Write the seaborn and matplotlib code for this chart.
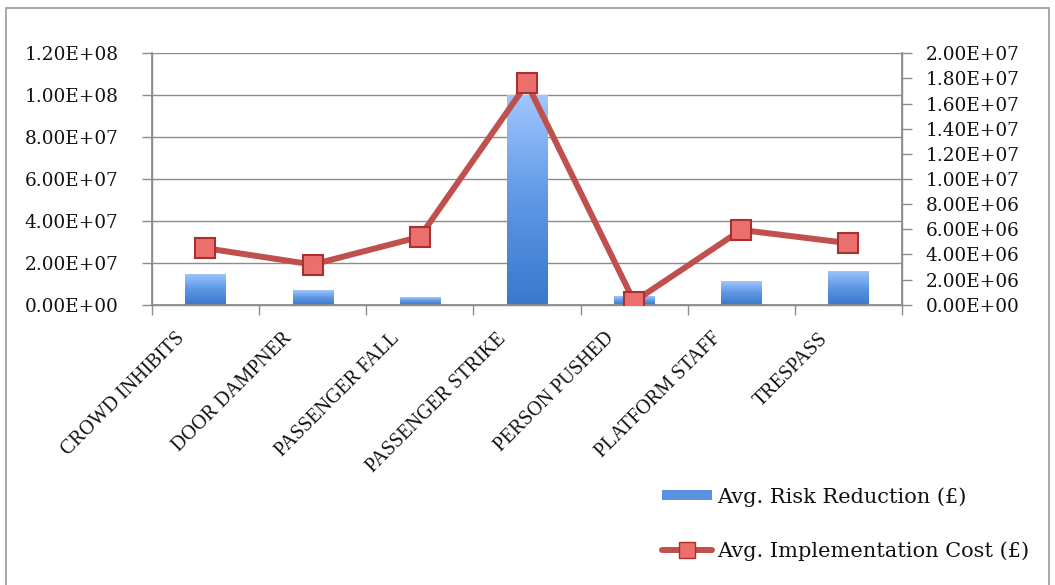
import numpy as np
import pandas as pd
import matplotlib
matplotlib.use("Agg")
import matplotlib.pyplot as plt
from matplotlib.colors import LinearSegmentedColormap
from matplotlib.patches import Rectangle, Patch
from matplotlib.lines import Line2D
from matplotlib.transforms import ScaledTranslation
import matplotlib.ticker as mticker
import seaborn as sns

categories = ["CROWD INHIBITS", "DOOR DAMPNER", "PASSENGER FALL", "PASSENGER STRIKE",
              "PERSON PUSHED", "PLATFORM STAFF", "TRESPASS"]
risk_reduction = [1.48e7, 7.1e6, 3.7e6, 1.0e8, 4.1e6, 1.14e7, 1.63e7]
implementation_cost = [4.5e6, 3.2e6, 5.4e6, 1.76e7, 2.6e5, 5.95e6, 4.9e6]
left_ticks = [0, 2e7, 4e7, 6e7, 8e7, 1e8, 1.2e8]
right_ticks = [0, 2e6, 4e6, 6e6, 8e6, 1e7, 1.2e7, 1.4e7, 1.6e7, 1.8e7, 2e7]

df = pd.DataFrame({"measure": categories, "risk": risk_reduction, "cost": implementation_cost})

sns.set_theme(style="white")
plt.rcParams["font.family"] = ["DejaVu Serif", "Liberation Serif"]

fig = plt.figure(figsize=(10.55, 5.85), dpi=100)
ax = fig.add_axes([0.144, 0.479, 0.711, 0.430])

grid_c = "#8c8c8c"
text_c = "#111111"
sci = mticker.FuncFormatter(lambda v, _: f"{v:.2E}")

sns.barplot(data=df, x="measure", y="risk", ax=ax, width=0.375, color="#4f86d8",
            saturation=1, zorder=2)

# vertical gradient fill on each bar
blue_cmap = LinearSegmentedColormap.from_list("bars", ["#3a78cc", "#5e97e4", "#a0c6ff"])
grad = np.linspace(0, 1, 256).reshape(-1, 1)
for p in list(ax.patches):
    x0, y0 = p.get_x(), p.get_y()
    w, h = p.get_width(), p.get_height()
    im = ax.imshow(grad, cmap=blue_cmap, origin="lower", aspect="auto",
                   extent=[x0, x0 + w, y0, y0 + h], zorder=2.5)
    im.set_clip_path(p)
    p.set_facecolor("none")
    p.set_edgecolor("none")

ax.set_xlim(-0.5, len(categories) - 0.5)
ax.set_ylim(0, 1.2e8)
ax.set_yticks(left_ticks)
ax.yaxis.set_major_formatter(sci)
ax.yaxis.grid(True, color=grid_c, linewidth=1.0, zorder=0)
ax.set_axisbelow(True)
ax.set_xlabel("")
ax.set_ylabel("")
ax.tick_params(axis="y", which="major", left=True, length=7, width=1, color=grid_c,
               labelsize=13.3, pad=17, labelcolor=text_c)
ax.set_xticks(range(len(categories)))
ax.set_xticklabels(categories, rotation=45, ha="right", rotation_mode="anchor",
                   fontsize=14.5, family=["Liberation Serif"], color=text_c)
ax.tick_params(axis="x", which="major", length=0, pad=14)
shift = ScaledTranslation(-30 / 100, -5 / 100, fig.dpi_scale_trans)
for lbl in ax.get_xticklabels():
    lbl.set_transform(lbl.get_transform() + shift)
ax.set_xticks(np.arange(-0.5, len(categories), 1.0), minor=True)
ax.tick_params(axis="x", which="minor", bottom=True, length=7, width=1, color=grid_c)
for s in ["left", "bottom", "right"]:
    ax.spines[s].set_color(grid_c)
    ax.spines[s].set_linewidth(1.0)
ax.spines["top"].set_visible(False)

ax2 = ax.twinx()
line_c = "#c0504d"
sns.pointplot(data=df, x="measure", y="cost", ax=ax2, color=line_c, markers="s",
              markersize=15, linewidth=4.3, markeredgecolor="#a8302e",
              markerfacecolor="#ea6f6d", markeredgewidth=1.5, zorder=5)
ax2.set_xlim(-0.5, len(categories) - 0.5)
ax2.set_ylim(0, 2e7)
ax2.set_yticks(right_ticks)
ax2.yaxis.set_major_formatter(sci)
ax2.set_ylabel("")
ax2.set_xlabel("")
ax2.grid(False)
ax2.tick_params(axis="y", right=True, length=7, width=1, color=grid_c, labelsize=13.3,
                pad=10, labelcolor=text_c)
for s in ["left", "bottom", "right"]:
    ax2.spines[s].set_color(grid_c)
ax2.spines["top"].set_visible(False)

handles = [Patch(facecolor="#5a92e0", edgecolor="none"),
           Line2D([0], [0], color=line_c, linewidth=4.3, marker="s", markersize=11,
                  markerfacecolor="#ea6f6d", markeredgecolor="#a8302e")]
fig.legend(handles, ["Avg. Risk Reduction (£)", "Avg. Implementation Cost (£)"],
           loc="upper left", bbox_to_anchor=(0.612, 0.196), frameon=False,
           fontsize=15, labelspacing=1.65, handlelength=2.4, handleheight=0.4,
           handletextpad=0.25, borderpad=0.3, labelcolor=text_c)

fig.patches.append(Rectangle((0.006, -0.05), 0.988, 1.036, transform=fig.transFigure,
                             fill=False, edgecolor="#9a9a9a", linewidth=1.2))

fig.savefig("out.png", dpi=100)
